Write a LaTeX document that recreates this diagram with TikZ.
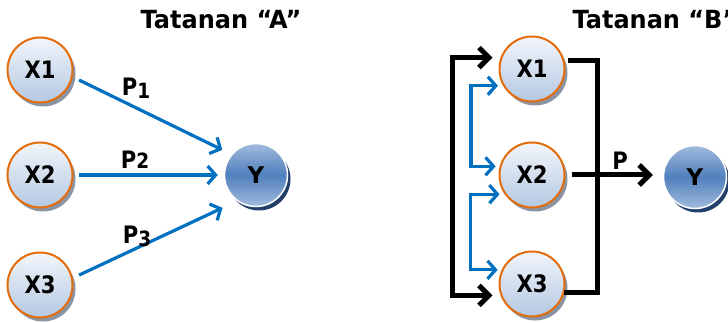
\documentclass[tikz,border=0pt]{standalone}
\usepackage{fontspec}
\setmainfont{DejaVu Sans}
\newfontfamily\lblfont[FakeStretch=0.88]{DejaVu Sans}
\newfontfamily\ttlfont[FakeStretch=0.96]{DejaVu Sans}
\usetikzlibrary{arrows.meta,shadows}
\definecolor{orangeB}{HTML}{E46C0A}
\definecolor{xtop}{HTML}{F2F5FB}
\definecolor{xbot}{HTML}{B4C8E2}
\definecolor{ylight}{HTML}{A2BBDD}
\definecolor{ymid}{HTML}{5080BD}
\definecolor{ynavy}{HTML}{22406B}
\definecolor{pblue}{HTML}{0070C0}
\definecolor{shgray}{HTML}{8A94A2}
\tikzset{
  xnode/.style={circle,draw=orangeB,line width=2pt,minimum size=65pt,inner sep=0pt,
    top color=xtop,bottom color=xbot,
    drop shadow={shadow xshift=3pt,shadow yshift=-4pt,fill=shgray,opacity=1},
    font=\lblfont\bfseries\fontsize{24}{26}\selectfont},
  ynode/.style={circle,draw=white,line width=1.5pt,minimum size=63pt,inner sep=0pt,
    top color=ylight,bottom color=ylight,middle color=ymid,
    drop shadow={shadow xshift=3pt,shadow yshift=-4pt,fill=ynavy,opacity=1},
    font=\bfseries\fontsize{23}{25}\selectfont},
  title/.style={font=\ttlfont\bfseries\fontsize{25}{27}\selectfont},
  plabel/.style={font=\lblfont\bfseries\fontsize{24}{26}\selectfont,inner sep=0pt},
  bh/.tip={Straight Barb[length=8pt,width=18pt,line width=3.2pt]},
  kh/.tip={Straight Barb[length=10pt,width=20pt,line width=5pt]},
  bluearrow/.style={draw=pblue,line width=3.2pt,-{bh}},
  bluebr/.style={draw=pblue,line width=3.2pt,{bh}-{bh}},
  blkbr/.style={draw=black,line width=5pt,{kh}-{kh}},
  blkline/.style={draw=black,line width=5pt},
  blkarrow/.style={draw=black,line width=5pt,-{kh}},
}
\newcommand{\dg}[2]{\raisebox{#1}{\fontsize{21}{21}\selectfont #2}}
\begin{document}
\begin{tikzpicture}[x=1pt,y=-1pt]
\useasboundingbox (0,0) rectangle (728,323);
% ---- Tatanan A ----
\node[title] (tA) at (221,20) {Tatanan “A”};
\node[xnode] (X1) at (40,70) {X1};
\node[xnode] (X2) at (40,175) {X2};
\node[xnode] (X3) at (40,285) {X3};
\node[ynode] (Y) at (256,175) {Y};
\draw[bluearrow,shorten <=7pt,shorten >=10pt] (X1.-12) -- (Y.140);
\draw[bluearrow,shorten <=5pt,shorten >=6pt] (X2.east) -- (Y.west);
\draw[bluearrow,shorten <=7pt,shorten >=16pt] (X3.12) -- (Y.234);
\node[plabel] (p1) at (136,88) {P\dg{-3pt}{1}};
\node[plabel] (p2) at (135,160) {P\dg{0pt}{2}};
\node[plabel] (p3) at (137,236) {P\dg{-3pt}{3}};
% ---- Tatanan B ----
\node[title,anchor=west] (tB) at (569,20) {Tatanan “B”};
\node[xnode] (BX1) at (532,69) {X1};
\node[xnode] (BX2) at (532,175) {X2};
\node[xnode] (BX3) at (532,284) {X3};
\node[ynode] (BY) at (695,177) {Y};
\draw[blkbr,shorten <=8pt,shorten >=8pt] (BX1.160) -- ++(-48,0) |- (BX3.200);
\draw[bluebr,shorten <=5pt,shorten >=4pt] (BX1.210) -- ++(-32,0) |- (BX2.165);
\draw[bluebr,shorten <=5pt,shorten >=4pt] (BX2.-145) -- ++(-34,0) |- (BX3.155);
\draw[blkline,shorten <=4pt] (BX1.15) -- ++(33,0) |- (BX3.-15);
\draw[blkarrow,shorten <=6pt,shorten >=10pt] (BX2.east) -- (BX2.east -| BY.west);
\node[plabel] (pB) at (620,161) {P};
\end{tikzpicture}
\end{document}
